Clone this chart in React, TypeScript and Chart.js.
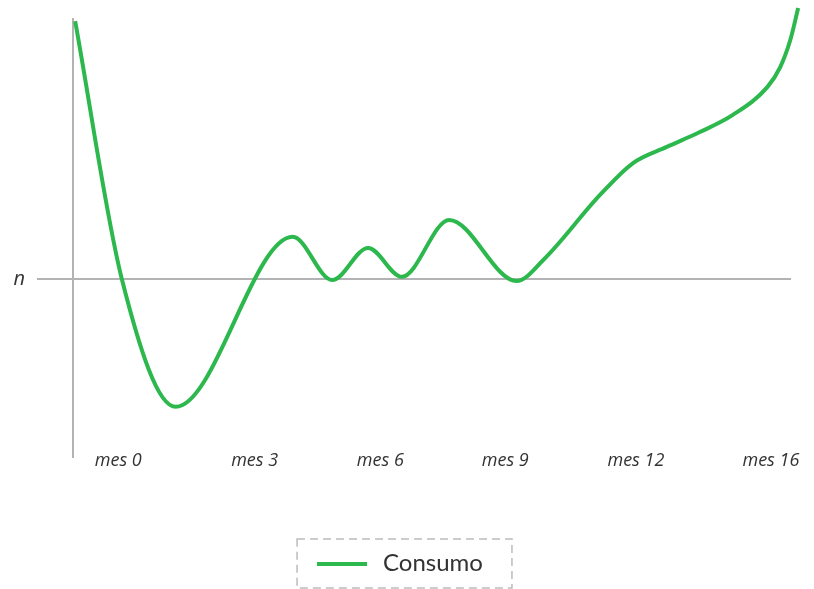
import React, { useEffect, useRef } from 'react';
import { Chart, registerables } from 'chart.js';

Chart.register(...registerables);

// ---- data ----
const seriesLabel = 'Consumo';
const xTickLabels = ['mes 0', 'mes 3', 'mes 6', 'mes 9', 'mes 12', 'mes 16'];
const xTickValues = [6.3, 25.3, 42.8, 60.2, 78.4, 97.2];
const yTickLabel = 'n';
const yTickValues = [0];
const curveX = [0.3, 6.8, 14.3, 30.6, 36.1, 41.1, 45.8, 52.4, 61.8, 65.5, 73.4, 78.0, 82.7, 87.3, 91.9, 96.7, 98.5, 99.9, 101.0];
const curveY = [99.2, 0, -49.2, 16.2, -0.4, 11.9, 0.8, 22.7, -0.8, 7.3, 32.3, 44.6, 50.8, 56.5, 63.1, 73.8, 81.5, 91.9, 104.2];

const GREEN = '#2db84d';
const AXIS_GRAY = '#b3b3b6';
const TEXT = '#333333';

const legendFrame = {
  id: 'legendFrame',
  afterDraw(chart: any) {
    const hb = chart.legend?.legendHitBoxes?.[0];
    if (!hb) return;
    const ctx = chart.ctx;
    ctx.save();
    // series swatch (a line)
    const cy = Math.round(hb.top + hb.height / 2);
    ctx.strokeStyle = GREEN;
    ctx.lineWidth = 4;
    ctx.beginPath();
    ctx.moveTo(hb.left, cy);
    ctx.lineTo(hb.left + 50, cy);
    ctx.stroke();
    // dashed frame
    ctx.setLineDash([8, 5]);
    ctx.strokeStyle = '#bcbcbc';
    ctx.lineWidth = 1.5;
    ctx.strokeRect(hb.left - 20, hb.top - 12.5, hb.width + 49, hb.height + 25);
    ctx.restore();
  },
};

export default function App() {
  const canvasRef = useRef<HTMLCanvasElement | null>(null);

  useEffect(() => {
    document.body.style.margin = '0';
    const canvas = canvasRef.current;
    if (!canvas) return;
    const points = curveX.map((x, i) => ({ x, y: curveY[i] }));
    const chart = new Chart(canvas, {
      type: 'line',
      data: {
        datasets: [
          {
            label: seriesLabel,
            data: points,
            borderColor: GREEN,
            backgroundColor: GREEN,
            borderWidth: 4,
            pointRadius: 0,
            pointHoverRadius: 0,
            cubicInterpolationMode: 'monotone',
            fill: false,
            clip: false as any,
          } as any,
        ],
      },
      options: {
        animation: false,
        responsive: true,
        maintainAspectRatio: false,
        layout: { padding: { top: 19, left: 9, right: 23, bottom: 3.5 } },
        plugins: {
          tooltip: { enabled: false },
          legend: {
            position: 'bottom',
            labels: {
              boxWidth: 54,
              boxHeight: 4,
              padding: 10,
              color: TEXT,
              font: { family: "Lato, 'Open Sans', sans-serif", size: 24 },
              generateLabels: (ch: any) =>
                Chart.defaults.plugins.legend.labels
                  .generateLabels(ch)
                  .map((l: any) => ({ ...l, lineWidth: 0, fillStyle: 'rgba(0,0,0,0)', strokeStyle: 'rgba(0,0,0,0)' })),
            },
          },
        },
        scales: {
          x: {
            type: 'linear',
            min: 0,
            max: 100,
            grid: { display: false },
            border: { display: false },
            afterBuildTicks: (scale: any) => {
              scale.ticks = xTickValues.map((v) => ({ value: v }));
            },
            afterFit: (scale: any) => {
              scale.height = 84.5;
              scale.paddingLeft = 0;
              scale.paddingRight = 0;
            },
            ticks: {
              autoSkip: false,
              maxRotation: 0,
              mirror: true,
              padding: -15,
              color: TEXT,
              font: { family: "'Open Sans', sans-serif", size: 18, style: 'italic' },
              callback: (_v: any, i: number) => xTickLabels[i],
            },
          },
          y: {
            type: 'linear',
            min: -68.5,
            max: 100,
            afterBuildTicks: (scale: any) => {
              scale.ticks = yTickValues.map((v) => ({ value: v }));
            },
            afterFit: (scale: any) => {
              scale.width = 64;
              scale.paddingTop = 0;
              scale.paddingBottom = 0;
            },
            grid: {
              color: AXIS_GRAY,
              lineWidth: 2,
              drawTicks: true,
              tickLength: 36,
            },
            border: { display: true, color: AXIS_GRAY, width: 2 },
            ticks: {
              padding: 12,
              color: TEXT,
              font: { family: "'Open Sans', sans-serif", size: 20, style: 'italic' },
              callback: () => yTickLabel,
            },
          },
        },
      },
      plugins: [legendFrame],
    });
    return () => chart.destroy();
  }, []);

  return (
    <div style={{ width: 814, height: 589, position: 'relative' }}>
      <canvas ref={canvasRef} />
    </div>
  );
}
